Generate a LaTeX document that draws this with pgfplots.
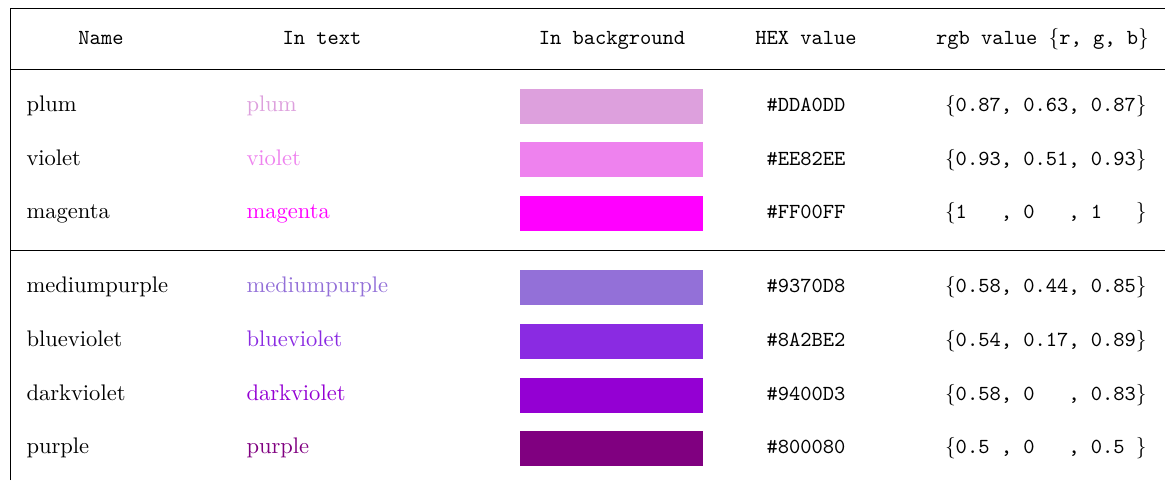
\documentclass[border=0pt]{standalone}
\usepackage{fontspec}
\usepackage{pgfplots}
\pgfplotsset{compat=1.18}
\definecolor{cplum}{HTML}{DDA0DD}
\definecolor{cviolet}{HTML}{EE82EE}
\definecolor{cmagenta}{HTML}{FF00FF}
\definecolor{cmediumpurple}{HTML}{9370D8}
\definecolor{cblueviolet}{HTML}{8A2BE2}
\definecolor{cdarkviolet}{HTML}{9400D3}
\definecolor{cpurple}{HTML}{800080}
\newcommand{\rf}{\fontsize{10.25}{12}\selectfont\rmfamily}
\newcommand{\tf}{\fontsize{9.75}{12}\selectfont\ttfamily}
\newcommand{\lb}{{\rmfamily\{}}
\newcommand{\rb}{{\rmfamily\}}}
\tikzset{tn/.style={inner sep=0pt, outer sep=0pt}}
\begin{document}
\begin{tikzpicture}
\useasboundingbox (0,0) rectangle (529.5pt,218.2pt);
\begin{axis}[
  scale only axis, width=529.5pt, height=218.2pt,
  xmin=0, xmax=1165, ymin=0, ymax=480, y dir=reverse,
  hide axis, clip=false,
]
% colour swatches
\addplot[fill=cplum, draw=none] coordinates {(520,89) (703,89) (703,123.7) (520,123.7)} -- cycle;
\addplot[fill=cviolet, draw=none] coordinates {(520,142) (703,142) (703,177) (520,177)} -- cycle;
\addplot[fill=cmagenta, draw=none] coordinates {(520,196) (703,196) (703,230.7) (520,230.7)} -- cycle;
\addplot[fill=cmediumpurple, draw=none] coordinates {(520,270) (703,270) (703,304.7) (520,304.7)} -- cycle;
\addplot[fill=cblueviolet, draw=none] coordinates {(520,324) (703,324) (703,358.7) (520,358.7)} -- cycle;
\addplot[fill=cdarkviolet, draw=none] coordinates {(520,378) (703,378) (703,412.7) (520,412.7)} -- cycle;
\addplot[fill=cpurple, draw=none] coordinates {(520,431) (703,431) (703,465.7) (520,465.7)} -- cycle;
% rules
\draw[line width=0.45pt] (axis cs:10,480) -- (axis cs:10,8) -- (axis cs:1165,8);
\draw[line width=0.45pt] (axis cs:10,69.3) -- (axis cs:1165,69.3);
\draw[line width=0.45pt] (axis cs:10,250.3) -- (axis cs:1165,250.3);
% header
\node[tn,anchor=base] at (axis cs:101,44.3) {\tf Name};
\node[tn,anchor=base] at (axis cs:322,44.3) {\tf In text};
\node[tn,anchor=base] at (axis cs:612,44.3) {\tf In background};
\node[tn,anchor=base] at (axis cs:806,44.3) {\tf HEX value};
\node[tn,anchor=base] at (axis cs:1042.5,44.3) {\tf rgb value \lb r, g, b\rb};
% rows
\node[tn,anchor=base west] at (axis cs:26.5,111.6) {\rf plum};
\node[tn,anchor=base west] at (axis cs:246.5,111.6) {\rf\color{cplum}plum};
\node[tn,anchor=base] at (axis cs:806,111.6) {\tf \#DDA0DD};
\node[tn,anchor=base west] at (axis cs:945,111.6) {\tf \lb 0.87, 0.63, 0.87\rb};

\node[tn,anchor=base west] at (axis cs:26.5,165) {\rf violet};
\node[tn,anchor=base west] at (axis cs:246.5,165) {\rf\color{cviolet}violet};
\node[tn,anchor=base] at (axis cs:806,165) {\tf \#EE82EE};
\node[tn,anchor=base west] at (axis cs:945,165) {\tf \lb 0.93, 0.51, 0.93\rb};

\node[tn,anchor=base west] at (axis cs:26.5,218.8) {\rf magenta};
\node[tn,anchor=base west] at (axis cs:246.5,218.8) {\rf\color{cmagenta}magenta};
\node[tn,anchor=base] at (axis cs:806,218.8) {\tf \#FF00FF};
\node[tn,anchor=base west] at (axis cs:945,218.8) {\tf \lb 1\ \ \ , 0\ \ \ , 1\ \ \ \rb};

\node[tn,anchor=base west] at (axis cs:26.5,292.8) {\rf mediumpurple};
\node[tn,anchor=base west] at (axis cs:246.5,292.8) {\rf\color{cmediumpurple}mediumpurple};
\node[tn,anchor=base] at (axis cs:806,292.8) {\tf \#9370D8};
\node[tn,anchor=base west] at (axis cs:945,292.8) {\tf \lb 0.58, 0.44, 0.85\rb};

\node[tn,anchor=base west] at (axis cs:26.5,346.8) {\rf blueviolet};
\node[tn,anchor=base west] at (axis cs:246.5,346.8) {\rf\color{cblueviolet}blueviolet};
\node[tn,anchor=base] at (axis cs:806,346.8) {\tf \#8A2BE2};
\node[tn,anchor=base west] at (axis cs:945,346.8) {\tf \lb 0.54, 0.17, 0.89\rb};

\node[tn,anchor=base west] at (axis cs:26.5,400.8) {\rf darkviolet};
\node[tn,anchor=base west] at (axis cs:246.5,400.8) {\rf\color{cdarkviolet}darkviolet};
\node[tn,anchor=base] at (axis cs:806,400.8) {\tf \#9400D3};
\node[tn,anchor=base west] at (axis cs:945,400.8) {\tf \lb 0.58, 0\ \ \ , 0.83\rb};

\node[tn,anchor=base west] at (axis cs:26.5,453.8) {\rf purple};
\node[tn,anchor=base west] at (axis cs:246.5,453.8) {\rf\color{cpurple}purple};
\node[tn,anchor=base] at (axis cs:806,453.8) {\tf \#800080};
\node[tn,anchor=base west] at (axis cs:945,453.8) {\tf \lb 0.5\ , 0\ \ \ , 0.5\ \rb};
\end{axis}
\end{tikzpicture}
\end{document}
